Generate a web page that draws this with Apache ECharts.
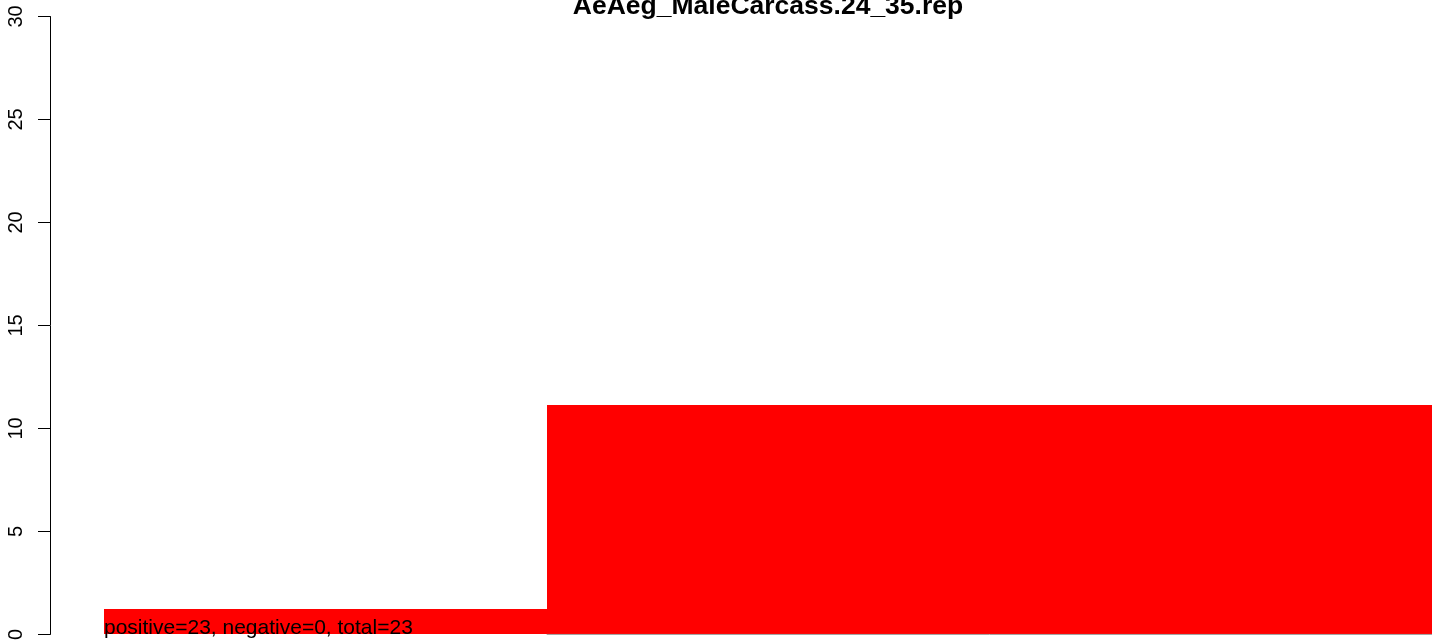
<!DOCTYPE html>
<html>
<head>
<meta charset="utf-8">
<script src="https://cdn.jsdelivr.net/npm/echarts@6/dist/echarts.min.js"></script>
<style>
html,body{margin:0;padding:0;background:#fff;}
#chart{width:1444px;height:643px;}
</style>
</head>
<body>
<div id="chart"></div>
<script>
var chartTitle = 'AeAeg_MaleCarcass.24_35.rep';
var binStart = [0, 1];
var binEnd = [1, 3];
var heights = [1.22, 11.15];
var yTicks = [0, 5, 10, 15, 20, 25, 30];
var annotation = 'positive=23, negative=0, total=23';
var baselineSegment = [[1, 0], [3, 0]];

var barData = binStart.map(function (s, i) { return [s, binEnd[i], heights[i]]; });

var chart = echarts.init(document.getElementById('chart'));
chart.setOption({
  animation: false,
  backgroundColor: '#ffffff',
  textStyle: { fontFamily: 'Liberation Sans, Arial, sans-serif' },
  graphic: [{
    type: 'text',
    x: 768, y: 20,
    style: {
      text: chartTitle,
      fontFamily: 'Liberation Sans, Arial, sans-serif',
      fontWeight: 'bold',
      fontSize: 26.5,
      fill: '#000',
      textAlign: 'center',
      textVerticalAlign: 'bottom'
    }
  }],
  grid: { left: 50, right: 12, top: 16.5, bottom: 8, containLabel: false },
  xAxis: {
    type: 'value', min: -0.122, max: 3,
    show: false
  },
  yAxis: {
    type: 'value', min: yTicks[0], max: yTicks[yTicks.length - 1], interval: 5,
    axisLine: { show: true, onZero: false, lineStyle: { color: '#000', width: 1 } },
    axisTick: { show: true, length: 12, lineStyle: { color: '#000', width: 1 } },
    splitLine: { show: false },
    axisLabel: {
      rotate: 90, margin: 24, color: '#000', fontSize: 20,
      fontFamily: 'Liberation Sans, Arial, sans-serif'
    }
  },
  series: [{
    type: 'custom',
    data: barData,
    encode: { x: [0, 1], y: 2 },
    renderItem: function (params, api) {
      var p0 = api.coord([api.value(0), 0]);
      var p1 = api.coord([api.value(1), api.value(2)]);
      var x0 = Math.round(p0[0]), x1 = Math.round(p1[0]);
      var y0 = Math.round(p0[1]), y1 = Math.round(p1[1]);
      return {
        type: 'rect',
        shape: { x: x0, y: y1, width: x1 - x0, height: y0 - y1 },
        style: { fill: '#ff0000' }
      };
    },
    z: 2
  }, {
    type: 'line',
    data: baselineSegment,
    symbol: 'none',
    lineStyle: { color: '#a0a0a0', width: 1 },
    z: 3
  }, {
    type: 'custom',
    data: [[0, 0]],
    renderItem: function (params, api) {
      var p = api.coord([api.value(0), api.value(1)]);
      return {
        type: 'text',
        x: Math.round(p[0]), y: p[1] + 4,
        style: {
          text: annotation,
          fontFamily: 'Liberation Sans, Arial, sans-serif',
          fontSize: 21,
          fill: '#000',
          textAlign: 'left',
          textVerticalAlign: 'bottom'
        }
      };
    },
    z: 4
  }]
});
</script>
</body>
</html>
